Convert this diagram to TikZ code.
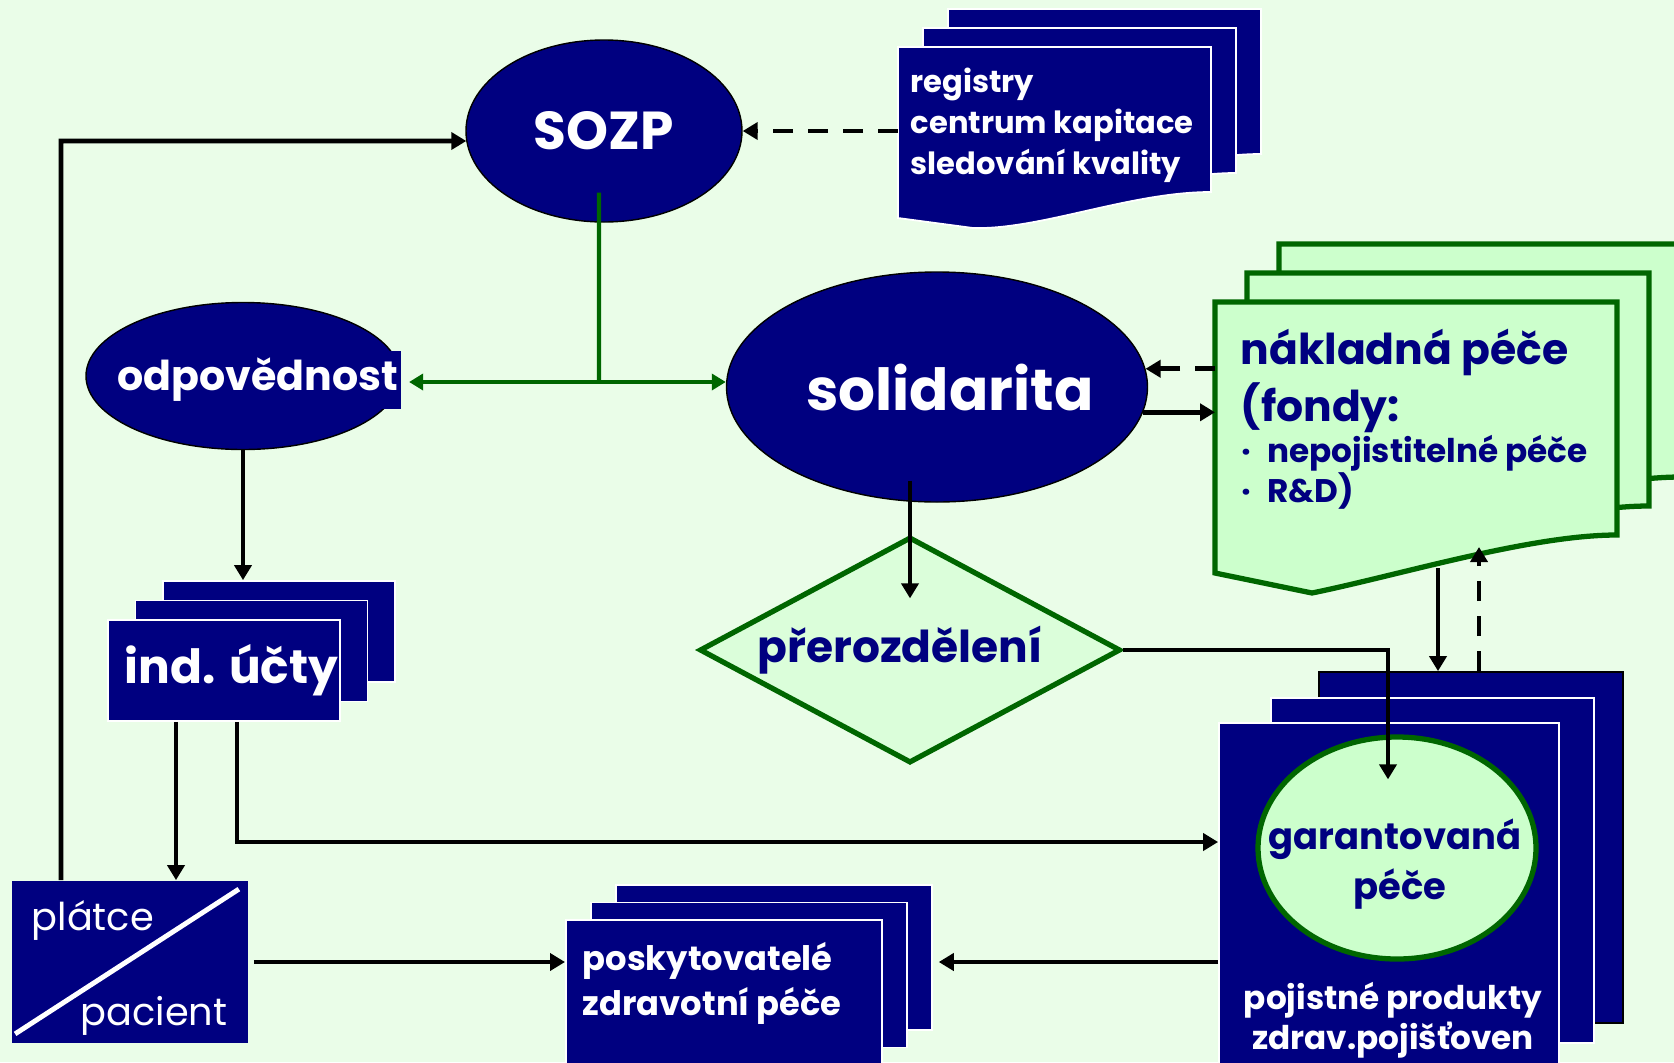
\documentclass[tikz,border=0pt]{standalone}
\usepackage{fontspec}
\setmainfont{Poppins}
\usetikzlibrary{shapes.geometric,arrows.meta,calc}

\definecolor{bgmint}{RGB}{234,253,232}
\definecolor{navy}{RGB}{0,0,128}
\definecolor{paleg}{RGB}{204,255,204}
\definecolor{darkg}{RGB}{0,102,0}

\tikzset{
  layer/.style={rectangle, fill=navy, draw=white, line width=0.5pt, inner sep=0pt},
  blob/.style={ellipse, fill=navy, draw=black, line width=0.4pt, inner sep=0pt},
  wtext/.style={text=white, inner sep=0pt},
  ntext/.style={text=navy, inner sep=0pt},
  arr/.style={-{Triangle[length=1.5mm,width=1.7mm]}, line width=1.35pt},
  dasharr/.style={arr, dash pattern=on 2mm off 1.5mm},
  grarr/.style={darkg, line width=1.2pt, {Triangle[length=1.4mm,width=1.6mm]}-{Triangle[length=1.4mm,width=1.6mm]}},
}

\begin{document}
\begin{tikzpicture}
  \useasboundingbox (0,0) rectangle (16.74,-10.62);
  \fill[bgmint] (0,0) rectangle (16.74,-10.62);

  % registry stack
  \foreach \s in {2,1,0}
    \filldraw[fill=navy, draw=white, line width=0.5pt, shift={(0.25*\s,0.19*\s)}]
      (8.98,-0.47) -- (12.11,-0.47) -- (12.11,-1.92)
      .. controls (11.3,-1.92) and (10.4,-2.3) .. (9.73,-2.28) -- (8.98,-2.18) -- cycle;
  \node[wtext, anchor=west, align=left, inner xsep=0.12cm, font=\bfseries\fontsize{8.7}{11.7}\selectfont] (reg) at (8.98,-1.25) {registry\\centrum kapitace\\sledování kvality};

  % naklada pece stack
  \foreach \s in {2,1,0}
    \filldraw[fill=paleg, draw=darkg, line width=1.5pt, shift={(0.32*\s,0.29*\s)}]
      (12.15,-3.02) -- (16.17,-3.02) -- (16.17,-5.35)
      .. controls (15.3,-5.35) and (14.0,-5.75) .. (13.12,-5.93) -- (12.15,-5.73) -- cycle;
  \node[ntext, anchor=west, align=left, inner xsep=0.25cm, font=\bfseries\fontsize{12.1}{16.2}\selectfont] (nakl) at (12.15,-3.81) {nákladná péče\\(fondy:};
  \node[ntext, anchor=west, align=left, font=\bfseries\fontsize{9.3}{11.4}\selectfont] (fondy) at (12.41,-4.72) {·\hspace{1.6mm}nepojistitelné péče\\·\hspace{1.6mm}R\&D)};

  % ind. ucty stack
  \foreach \s in {2,1,0}
    \node[layer, minimum width=2.32cm, minimum height=1.01cm] (ucty\s) at (2.24+0.275*\s,-6.705+0.195*\s) {};
  \node[wtext, font=\bfseries\fontsize{13.4}{16}\selectfont] (ucty) at (2.315,-6.70) {ind. účty};

  % poskytovatele stack
  \foreach \s in {2,1,0}
    \node[layer, anchor=north west, minimum width=3.16cm, minimum height=1.45cm] (posk\s) at (5.65+0.25*\s,-9.19+0.175*\s) {};
  \node[wtext, anchor=west, align=left, inner xsep=0.17cm, font=\bfseries\fontsize{9.6}{12.8}\selectfont] (posk) at (5.65,-9.835) {poskytovatelé\\zdravotní péče};

  % garantovana pece stack
  \node[layer, draw=black, minimum width=3.04cm, minimum height=3.51cm] (gar3) at (14.71,-8.475) {};
  \node[layer, minimum width=3.23cm, minimum height=3.45cm] (gar2) at (14.325,-8.705) {};
  \node[layer, minimum width=3.40cm, minimum height=3.67cm] (gar1) at (13.89,-9.065) {};
  \node[ellipse, fill=paleg, draw=darkg, line width=1.5pt, minimum width=2.78cm, minimum height=2.22cm] (gar) at (13.97,-8.48) {};
  \node[ntext, align=center, font=\bfseries\fontsize{10.5}{14}\selectfont] (gartxt) at (13.95,-8.64) {garantovaná\\\hspace{1mm}péče};
  \node[wtext, align=center, font=\bfseries\fontsize{9.3}{10}\selectfont] (prod) at (13.93,-10.20) {pojistné produkty\\zdrav.pojišťoven};

  % platce / pacient
  \node[layer, draw=none, minimum width=2.36cm, minimum height=1.62cm] (plat) at (1.30,-9.62) {};
  \draw[white, line width=1.4pt] ($(plat.south west)+(0.04,0.1)$) -- ($(plat.north east)+(-0.1,-0.09)$);
  \node[wtext, anchor=base west, font=\fontsize{10.9}{13}\selectfont] (platce) at (0.31,-9.30) {plátce};
  \node[wtext, anchor=base west, font=\fontsize{10.9}{13}\selectfont] (pacient) at (0.80,-10.25) {pacient};

  % ellipses and diamond
  \node[blob, minimum width=2.76cm, minimum height=1.82cm, text=white, font=\bfseries\fontsize{15.2}{18}\selectfont] (sozp) at (6.04,-1.31) {SOZP};
  \node[blob, minimum width=3.14cm, minimum height=1.47cm] (odp) at (2.43,-3.76) {};
  \node[wtext, fill=navy, minimum height=0.58cm, inner xsep=0.03cm, font=\bfseries\fontsize{11.7}{14}\selectfont] (odplbl) at (2.58,-3.80) {odpovědnost};
  \node[blob, minimum width=4.21cm, minimum height=2.30cm] (soli) at (9.37,-3.87) {};
  \node[wtext, font=\bfseries\fontsize{16.5}{19}\selectfont] (solitxt) at (9.50,-3.87) {solidarita};
  \node[diamond, aspect=1.86, inner sep=0pt, minimum width=4.21cm, minimum height=2.26cm, fill=paleg!50!bgmint, draw=darkg, line width=1.5pt, text=navy, font=\bfseries\fontsize{12.5}{15}\selectfont] (prer) at (9.10,-6.50) {přerozdělení\kern2mm};

  % connectors
  \coordinate (loop) at (0.61,-1.41);
  \draw[arr] (plat.north -| loop) -- (loop) -- ($(sozp.west)+(0.01,-0.1)$);
  \draw[dasharr] (reg.west |- sozp.east) -- (sozp.east);

  % green branch from SOZP
  \coordinate (split) at (5.99,-3.82);
  \draw[darkg, line width=1.2pt] ($(sozp.south)+(-0.05,0.3)$) -- (split);
  \draw[grarr] ($(odplbl.east |- split)+(0.07,0)$) -- (soli.west |- split);

  \draw[arr] (odp.south) -- (odp.south |- ucty2.north);
  \draw[arr] ($(ucty0.south)+(-0.48,0)$) -- ($(ucty0.south |- plat.north)+(-0.48,0)$);
  \coordinate (bend) at (2.37,-8.42);
  \draw[arr] (ucty0.south -| bend) -- (bend) -- (bend -| gar1.west);

  \draw[arr, shorten <=0.5mm] (plat.east) -- (plat.east -| posk0.west);
  \draw[arr, shorten >=0.6mm] (gar1.west |- plat.east) -- (posk2.east |- plat.east);

  \draw[dasharr] (nakl.west |- soli.5.5) -- (soli.5.5);
  \draw[arr] (soli.-7.8) -- (nakl.west |- soli.-7.8);

  \draw[arr] ($(prer.north |- soli.south)+(0,0.22)$) -- ($(prer.north)+(0,-0.64)$);
  \draw[arr] (prer.east) -| ($(gar.north)+(-0.09,-0.45)$);

  \coordinate (wave1) at (14.38,-5.68);
  \coordinate (wave2) at (14.79,-5.47);
  \draw[arr] (wave1) -- (wave1 |- gar3.north);
  \draw[dasharr] (wave2 |- gar3.north) -- (wave2);
\end{tikzpicture}
\end{document}
